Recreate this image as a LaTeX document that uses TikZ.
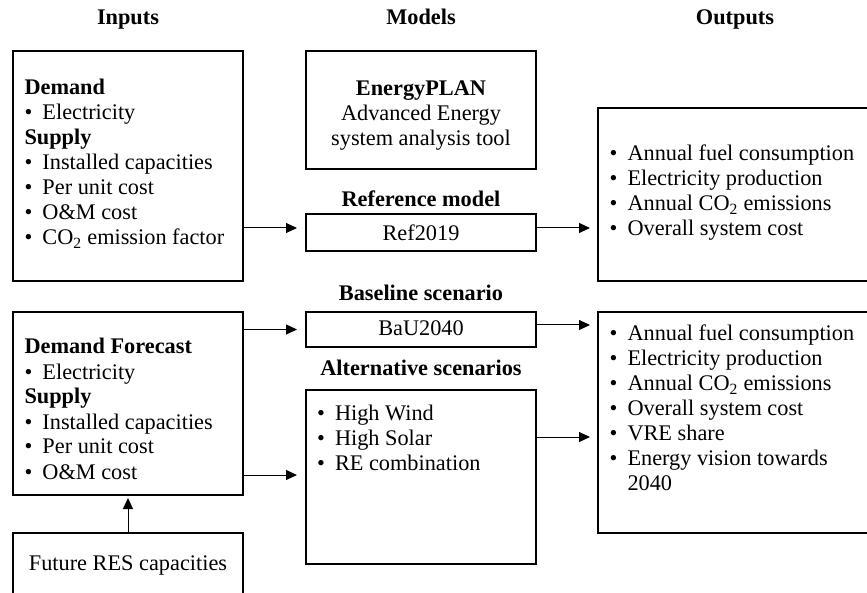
\documentclass[tikz,border=0pt]{standalone}
\usepackage{fontspec}
\setmainfont{Liberation Serif}
\usetikzlibrary{arrows.meta}
\newcommand{\hl}[1]{\hbox{\bfseries #1}}
\newcommand{\bl}[1]{\hbox{\makebox[18pt][l]{\textbullet}#1}}
\newcommand{\ind}[1]{\hbox{\makebox[18pt][l]{}#1}}
\begin{document}
\begin{tikzpicture}[x=1pt,y=-1pt,
  every node/.style={font=\fontsize{22.3}{25}\selectfont, inner sep=0pt, outer sep=0pt},
  boxx/.style={draw, line width=2.2pt, rectangle},
  ttl/.style={anchor=base, font=\fontsize{22.3}{25}\selectfont\bfseries},
  txt/.style={anchor=base west},
  arr/.style={line width=1pt, -{Triangle[length=11pt,width=10pt]}}]
\path[use as bounding box] (0,0) rectangle (867,593);

% titles
\node[ttl] (tin) at (128,25) {Inputs};
\node[ttl] (tmo) at (421,25) {Models};
\node[ttl] (tou) at (735,25) {Outputs};

% boxes
\node[boxx, minimum width=230pt, minimum height=230pt] (in1) at (128,166) {};
\node[boxx, minimum width=230pt, minimum height=183pt] (in2) at (128,403.5) {};
\node[boxx, minimum width=230pt, minimum height=67pt] (fut) at (128,566.5) {};
\node[boxx, minimum width=230pt, minimum height=118pt] (ep) at (421,110) {};
\node[boxx, minimum width=230pt, minimum height=37pt] (ref) at (421,232.5) {};
\node[boxx, minimum width=230pt, minimum height=35pt] (bau) at (421,329.5) {};
\node[boxx, minimum width=230pt, minimum height=174pt] (alt) at (421,477) {};
\node[boxx, minimum width=282pt, minimum height=173pt] (out1) at (739,194.5) {};
\node[boxx, minimum width=282pt, minimum height=221pt] (out2) at (739,422.5) {};

% texts
\node[txt] (in1t) at (24.5,95) {\vtop{\hl{Demand}\bl{Electricity}\hl{Supply}\bl{Installed capacities}\bl{Per unit cost}\bl{O\&M cost}\bl{CO\textsubscript{2} emission factor}}};
\node[txt] (in2t) at (24.5,354) {\vtop{\hl{Demand Forecast}\bl{Electricity}\hl{Supply}\bl{Installed capacities}\bl{Per unit cost}\bl{O\&M cost}}};
\node[anchor=base] (futt) at (128,570) {Future RES capacities};
\node[anchor=base] (ept) at (421,96) {\begin{tabular}[t]{@{}c@{}}\textbf{EnergyPLAN}\\Advanced Energy\\system analysis tool\end{tabular}};
\node[ttl] (refl) at (421,207) {Reference model};
\node[anchor=base] (reft) at (421,241) {Ref2019};
\node[ttl] (baul) at (421,301) {Baseline scenario};
\node[anchor=base] (baut) at (421,336) {BaU2040};
\node[ttl] (altl) at (421,375) {Alternative scenarios};
\node[txt] (altt) at (317,420) {\vtop{\bl{High Wind}\bl{High Solar}\bl{RE combination}}};
\node[txt] (out1t) at (609.5,161) {\vtop{\bl{Annual fuel consumption}\bl{Electricity production}\bl{Annual CO\textsubscript{2} emissions}\bl{Overall system cost}}};
\node[txt] (out2t) at (609.5,341) {\vtop{\bl{Annual fuel consumption}\bl{Electricity production}\bl{Annual CO\textsubscript{2} emissions}\bl{Overall system cost}\bl{VRE share}\bl{Energy vision towards}\ind{2040}}};

% connectors
\coordinate (r1) at ([yshift=4.5pt]ref.west);
\coordinate (r2) at ([yshift=4.5pt]ref.east);
\coordinate (b2) at ([yshift=4.5pt]bau.east);
\coordinate (a1) at ([yshift=2pt]alt.west);
\coordinate (a2) at ([yshift=40pt]alt.east);
\draw[arr, shorten >=9pt] (in1.east |- r1) -- (r1);
\draw[arr, shorten >=8pt] (r2) -- (r2 -| out1.west);
\draw[arr, shorten >=9pt] (in2.east |- bau.west) -- (bau.west);
\draw[arr, shorten >=9pt] (in2.east |- a1) -- (a1);
\draw[arr, shorten >=8pt] (b2) -- (b2 -| out2.west);
\draw[arr, shorten >=8pt] (a2) -- (a2 -| out2.west);
\draw[arr, shorten >=3pt] (fut.north) -- (in2.south);
\end{tikzpicture}
\end{document}
